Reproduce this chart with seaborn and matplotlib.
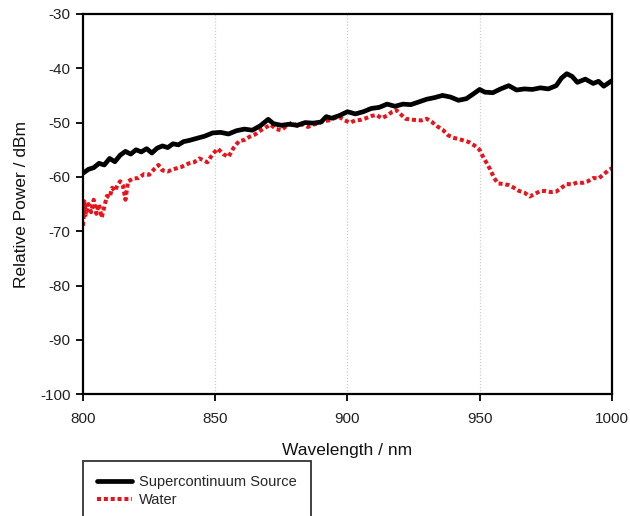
import matplotlib
matplotlib.use("Agg")
import matplotlib.pyplot as plt
import seaborn as sns
import pandas as pd

# Supercontinuum source (black)
sc_wavelength = [800, 802, 804, 806, 808, 810, 812, 814, 816, 818, 820, 822, 824, 826, 828,
                 830, 832, 834, 836, 838, 840, 843, 846, 849, 852, 855, 858, 861, 864, 867,
                 870, 872, 875, 878, 881, 884, 887, 890, 892, 894, 897, 900, 903, 906, 909,
                 912, 915, 918, 921, 924, 927, 930, 933, 936, 939, 942, 945, 948, 950, 952,
                 955, 958, 961, 964, 967, 970, 973, 976, 979, 981, 983, 985, 987, 990, 993,
                 995, 997, 1000]
sc_power = [-59.3, -58.6, -58.3, -57.5, -57.8, -56.6, -57.2, -56.0, -55.3, -55.8, -55.0, -55.4,
            -54.8, -55.6, -54.7, -54.3, -54.6, -53.9, -54.1, -53.5, -53.3, -52.9, -52.5, -51.9,
            -51.8, -52.1, -51.5, -51.2, -51.4, -50.6, -49.4, -50.2, -50.5, -50.3, -50.5, -50.0,
            -50.1, -49.9, -48.9, -49.2, -48.7, -48.0, -48.4, -48.0, -47.4, -47.2, -46.6, -47.0,
            -46.6, -46.7, -46.2, -45.7, -45.4, -45.0, -45.3, -45.9, -45.6, -44.6, -43.9, -44.4,
            -44.5, -43.8, -43.2, -44.0, -43.8, -43.9, -43.6, -43.8, -43.2, -41.8, -41.0, -41.5,
            -42.6, -42.0, -42.8, -42.4, -43.3, -42.3]

# Water (red)
water_wavelength = [800, 800.5, 801, 802, 803, 804, 805, 806, 807, 808, 809, 810, 811, 812, 813,
                    814, 815, 816, 817, 819, 821, 823, 825, 827, 828.5, 830, 832, 834, 837, 840,
                    842, 844, 847, 849, 851, 853, 855, 857, 859, 861, 863, 865, 867, 869, 871,
                    873, 875, 877, 879, 881, 883, 885, 887, 889, 891, 893, 895, 897, 899, 901,
                    903, 905, 907, 909, 911, 913, 915, 917, 918.5, 920, 922, 925, 928, 930, 932,
                    934, 936, 938, 940, 942, 944, 946, 948, 950, 951, 952.5, 954, 955.5, 957, 959,
                    961, 963, 965, 967, 969, 971, 973, 975, 977, 979, 981, 983, 985, 987, 989,
                    991, 993, 995, 997, 999, 1000]
water_power = [-69.0, -64.5, -67.0, -65.0, -66.5, -64.2, -66.8, -65.0, -67.5, -65.5, -63.5, -63.8,
               -62.0, -62.6, -61.5, -60.8, -61.5, -64.2, -60.8, -60.3, -60.2, -59.5, -59.6, -58.5,
               -57.8, -58.8, -59.0, -58.6, -58.2, -57.5, -57.3, -56.6, -57.3, -55.8, -54.8, -55.8,
               -56.3, -54.6, -53.4, -53.2, -52.6, -52.2, -51.5, -50.9, -50.4, -51.2, -51.4, -50.6,
               -50.0, -50.6, -50.3, -50.8, -50.4, -50.1, -49.7, -49.6, -49.2, -49.0, -49.6, -50.0,
               -49.6, -49.5, -49.2, -48.8, -48.6, -49.2, -48.7, -48.0, -47.7, -48.4, -49.3, -49.5,
               -49.6, -49.3, -49.9, -50.7, -51.3, -52.3, -52.8, -53.0, -53.3, -53.6, -54.2, -55.0,
               -56.0, -57.3, -58.6, -60.2, -61.2, -61.3, -61.5, -62.0, -62.6, -62.9, -63.6, -63.1,
               -62.6, -62.6, -62.8, -62.7, -62.0, -61.3, -61.4, -61.0, -61.1, -60.8, -60.2, -60.3,
               -59.5, -58.7, -58.4]

x_ticks = [800, 850, 900, 950, 1000]
y_ticks = [-100, -90, -80, -70, -60, -50, -40, -30]

sns.set_theme(style="white")
plt.rcParams['font.family'] = ['Liberation Sans', 'DejaVu Sans']

fig = plt.figure(figsize=(6.3, 5.16), dpi=100)
ax = fig.add_axes([0.132, 0.236, 0.839, 0.737])

sc_df = pd.DataFrame({"wl": sc_wavelength, "p": sc_power})
w_df = pd.DataFrame({"wl": water_wavelength, "p": water_power})

sns.lineplot(data=sc_df, x="wl", y="p", ax=ax, color="black", linewidth=3.4,
             label="Supercontinuum Source", zorder=3, estimator=None, sort=False)
sns.lineplot(data=w_df, x="wl", y="p", ax=ax, color="#e8141c", linewidth=2.9,
             linestyle=(0, (1, 0.7)), label="Water", zorder=2, estimator=None, sort=False)

ax.set_xlim(800, 1000)
ax.set_ylim(-100, -30)
ax.set_xticks(x_ticks)
ax.set_yticks(y_ticks)
ax.set_xticklabels([str(t) for t in x_ticks])
ax.set_yticklabels([str(t) for t in y_ticks])

for x in [850, 900, 950]:
    ax.axvline(x, color="#c8cfd4", linestyle=(0, (1, 1.5)), linewidth=0.9, zorder=1)

for s in ax.spines.values():
    s.set_visible(True)
    s.set_color("black")
    s.set_linewidth(1.6)

ax.tick_params(axis="both", which="major", direction="out", length=5, width=1.3,
               color="black", labelsize=11, labelcolor="#222222", pad=4,
               bottom=True, left=True)
ax.tick_params(axis="x", pad=8)

ax.set_xlabel("Wavelength / nm", fontsize=12.5, color="#111111", labelpad=12)
ax.set_ylabel("Relative Power / dBm", fontsize=12.5, color="#111111", labelpad=8)

ax.get_legend().remove()
handles, labels = ax.get_legend_handles_labels()
leg = fig.legend(handles, labels, loc="upper left", bbox_to_anchor=(0.132, 0.107),
                 bbox_transform=fig.transFigure, frameon=True, fancybox=False,
                 fontsize=10.5, handlelength=2.4, handletextpad=0.5, borderpad=0.95,
                 labelspacing=0.3, borderaxespad=0)
leg.get_frame().set_edgecolor("black")
leg.get_frame().set_linewidth(1.3)

fig.savefig("out.png", dpi=100)
